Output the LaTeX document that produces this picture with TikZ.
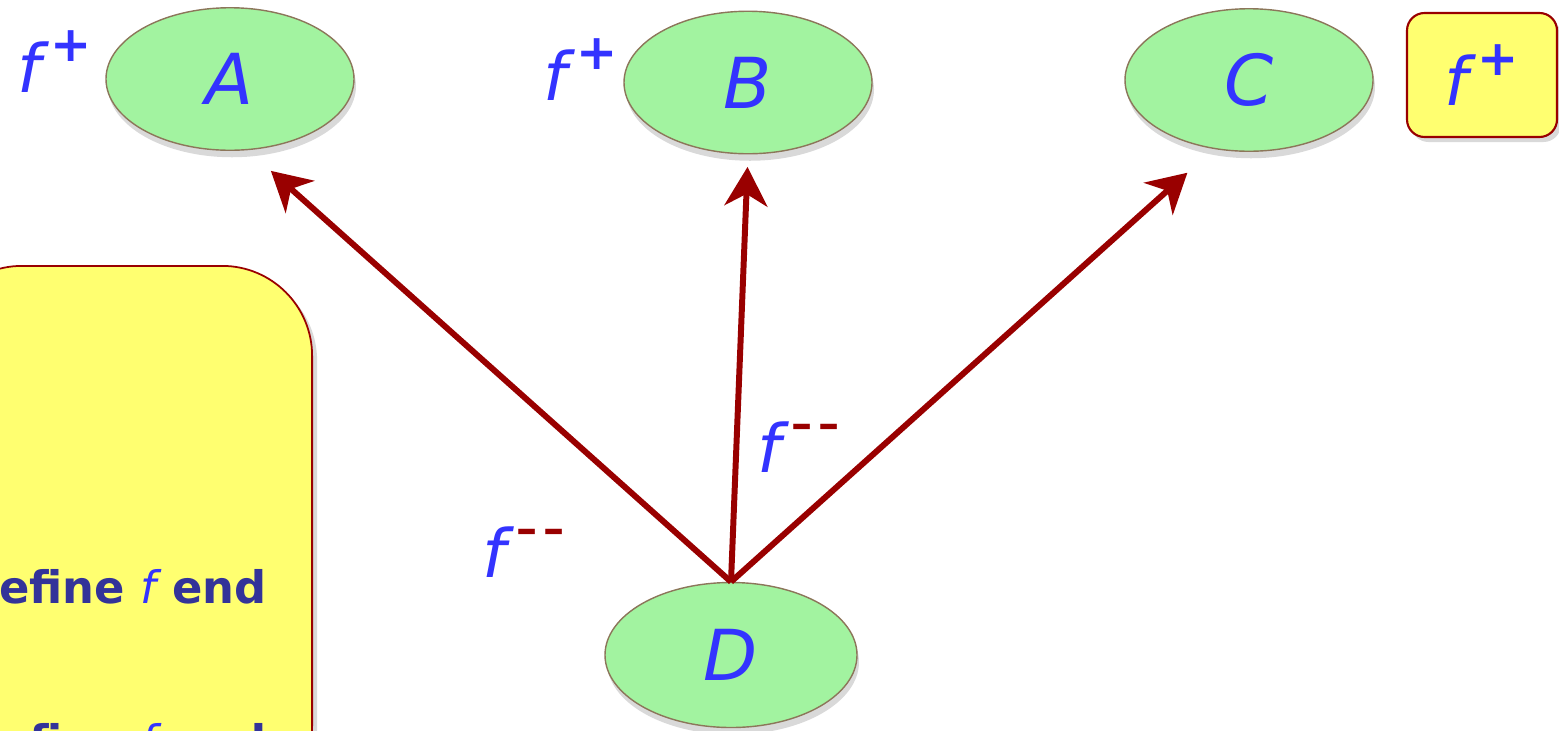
\documentclass[tikz,border=0pt]{standalone}
\usepackage{fontspec}
\setmainfont{DejaVu Sans}
\usetikzlibrary{shapes,arrows.meta,positioning,shadows}
\definecolor{nodegreen}{RGB}{162,243,160}
\definecolor{nodeedge}{RGB}{140,118,90}
\definecolor{letterblue}{RGB}{51,51,255}
\definecolor{notetext}{RGB}{51,51,153}
\definecolor{arrowred}{RGB}{153,0,0}
\definecolor{noteyellow}{RGB}{255,255,112}
\newcommand\fmark[1]{\hspace{0.14em}\raisebox{0.45em}{\fontsize{28}{32}\selectfont\upshape\bfseries #1}}
\newcommand\fdash{\hspace{0.16em}\raisebox{0.5em}{\fontsize{24}{28}\selectfont\upshape\bfseries\color{arrowred}\textendash\hspace{0.15em}\textendash}}

\begin{document}
\begin{tikzpicture}[
    cls/.style={draw=nodeedge, line width=0.8pt, fill=nodegreen, ellipse, minimum width=4.96cm, minimum height=2.85cm, inner sep=0pt, font=\fontsize{40}{48}\selectfont\itshape, text=letterblue, drop shadow={shadow xshift=0.04cm, shadow yshift=-0.14cm, opacity=0.3}},
    tag/.style={font=\fontsize{38}{46}\selectfont\itshape, text=letterblue, inner sep=0pt},
    notebox/.style={draw=arrowred, line width=1pt, fill=noteyellow, rectangle, rounded corners=1.8cm, drop shadow={shadow xshift=0.1cm, shadow yshift=-0.1cm, opacity=0.3}},
    flagbox/.style={draw=arrowred, line width=1.2pt, fill=noteyellow, rectangle, rounded corners=0.35cm, minimum width=3cm, minimum height=2.48cm, font=\fontsize{38}{46}\selectfont\itshape, text=letterblue, drop shadow={shadow xshift=0.08cm, shadow yshift=-0.1cm, opacity=0.3}},
    notetxt/.style={font=\fontsize{25.5}{32}\selectfont\bfseries, text=notetext, inner sep=0pt},
    arrow/.style={line width=3.4pt, draw=arrowred, -{Stealth[length=0.78cm, width=0.86cm, inset=0.24cm]}}
]
    \useasboundingbox (0,0) rectangle (31.18,-14.6);
    \clip (0,0) rectangle (31.18,-14.6);

    % Draw nodes
    \node (note) [notebox, minimum width=7.6cm, minimum height=11cm, anchor=north east] at (6.26,-5.3) {};
    \node (note1) [notetxt, anchor=base east] at (5.34,-12.06) {efine {\mdseries\itshape\color{letterblue}f} end};
    \node (note2) [notetxt, anchor=base east] at (5.34,-15.14) {efine {\mdseries\itshape\color{letterblue}f} end};

    \node (A) [cls] at (4.6,-1.58) {A};
    \node (B) [cls] at (14.96,-1.65) {B};
    \node (C) [cls] at (24.98,-1.6) {C};
    \node (D) [cls, minimum width=5.04cm, minimum height=2.9cm] at (14.62,-13.1) {D};
    \node (flag) [flagbox] at (29.64,-1.5) {f\fmark{+}};

    \node (tagA) [tag, anchor=base west] at (0.34,-1.84) {f\fmark{+}};
    \node (tagB) [tag, anchor=base west] at (10.86,-2.0) {f\fmark{+}};
    \node (tagDA) [tag, anchor=base west] at (9.64,-11.54) {f\fdash};
    \node (tagDB) [tag, anchor=base west] at (15.14,-9.44) {f\fdash};

    % Draw connections
    \draw [arrow, shorten >=0.62cm] (D.north) -- (A.-76);
    \draw [arrow, shorten >=0.25cm] (D.north) -- (B.south);
    \draw [arrow, shorten >=0.71cm] (D.north) -- (C.-117);

\end{tikzpicture}
\end{document}
